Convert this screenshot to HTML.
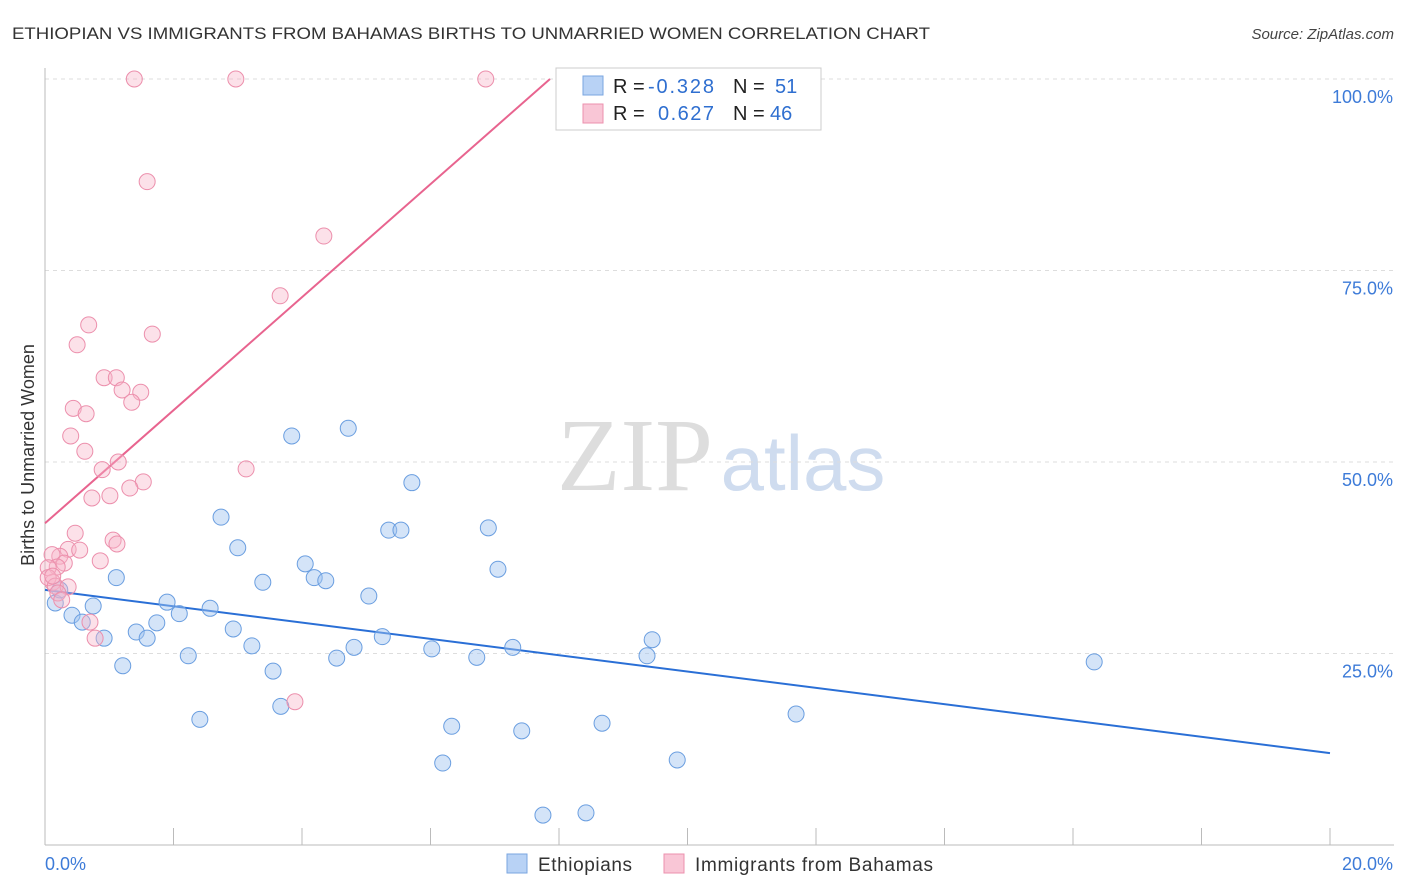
<!DOCTYPE html>
<html><head><meta charset="utf-8"><style>
body{margin:0;background:#fff;font-family:"Liberation Sans",sans-serif;}
svg{display:block}
</style></head><body>
<svg id="chart" width="1406" height="892">
<text x="12" y="39" font-size="17" fill="#333" textLength="918" lengthAdjust="spacingAndGlyphs">ETHIOPIAN VS IMMIGRANTS FROM BAHAMAS BIRTHS TO UNMARRIED WOMEN CORRELATION CHART</text>
<text x="1394" y="39" font-size="15" fill="#444" font-style="italic" text-anchor="end">Source: ZipAtlas.com</text>
<text x="0" y="0" transform="translate(34,455) rotate(-90)" font-size="18" fill="#333" text-anchor="middle">Births to Unmarried Women</text>
<g><text x="635" y="490" font-size="104" fill="#ddd" font-family="Liberation Serif" text-anchor="middle">ZIP</text><text x="803" y="490" font-size="78" fill="#cfdcef" text-anchor="middle">atlas</text></g>
<g id="grid"></g><g id="axes"></g><g id="lines"></g><g id="pts"></g>
<g>
<rect x="556" y="68" width="265" height="62" fill="#fff" stroke="#ccc"/>
<rect x="583" y="76" width="20" height="19" fill="#b8d2f5" stroke="#7aa6e0"/>
<rect x="583" y="104" width="20" height="19" fill="#f9c6d6" stroke="#ec90ae"/>
<text x="613" y="93" font-size="20" fill="#222">R = </text><text x="648" y="93" font-size="20" fill="#2f6fd0" textLength="66">-0.328</text>
<text x="733" y="93" font-size="20" fill="#222">N = </text><text x="775" y="93" font-size="20" fill="#2f6fd0">51</text>
<text x="613" y="120" font-size="20" fill="#222">R = </text><text x="658" y="120" font-size="20" fill="#2f6fd0" textLength="56">0.627</text>
<text x="733" y="120" font-size="20" fill="#222">N = </text><text x="770" y="120" font-size="20" fill="#2f6fd0">46</text>
</g>
<g>
<rect x="507" y="854" width="20" height="19" fill="#b8d2f5" stroke="#7aa6e0"/>
<text x="538" y="871" font-size="19" fill="#333" textLength="94">Ethiopians</text>
<rect x="664" y="854" width="20" height="19" fill="#f9c6d6" stroke="#ec90ae"/>
<text x="695" y="871" font-size="19" fill="#333" textLength="238">Immigrants from Bahamas</text>
</g>
</svg>
<script>
const xTicks=[0,2,4,6,8,10,12,14,16,18,20];
const yTicks=[25,50,75,100];
const blueX=[0.16,0.23,0.42,0.58,0.75,0.92,1.11,1.21,1.42,1.59,1.74,1.90,2.09,2.23,2.41,2.57,2.74,2.93,3.00,3.22,3.39,3.55,3.67,3.84,4.05,4.19,4.37,4.54,4.72,4.81,5.04,5.25,5.35,5.54,5.71,6.02,6.19,6.33,6.72,6.90,7.05,7.28,7.42,7.75,8.42,8.67,9.37,9.45,9.84,11.69,16.33];
const blueY=[31.6,33.3,30.0,29.1,31.2,27.0,34.9,23.4,27.8,27.0,29.0,31.7,30.2,24.7,16.4,30.9,42.8,28.2,38.8,26.0,34.3,22.7,18.1,53.4,36.7,34.9,34.5,24.4,54.4,25.8,32.5,27.2,41.1,41.1,47.3,25.6,10.7,15.5,24.5,41.4,36.0,25.8,14.9,3.9,4.2,15.9,24.7,26.8,11.1,17.1,23.9];
const pinkX=[1.39,2.97,6.86,1.59,4.34,3.66,0.68,1.67,0.50,0.92,1.11,1.20,1.49,1.35,0.44,0.64,0.40,0.62,1.14,0.89,3.13,1.53,1.32,1.01,0.73,0.47,1.06,1.12,0.36,0.54,0.23,0.11,0.30,0.19,0.05,0.86,0.12,0.05,0.16,0.36,0.20,0.26,0.70,0.78,3.89,0.12];
const pinkY=[100,100,100,86.6,79.5,71.7,67.9,66.7,65.3,61.0,61.0,59.4,59.1,57.8,57.0,56.3,53.4,51.4,50.0,49.0,49.1,47.4,46.6,45.6,45.3,40.7,39.8,39.3,38.6,38.5,37.7,37.9,36.8,36.3,36.2,37.1,34.3,34.9,33.8,33.7,32.9,32.0,29.1,27.0,18.7,35.1];
const blueLine=[33.3,12.0];
const pinkLine=[42.0,7.86];
const NS='http://www.w3.org/2000/svg';
const X=v=>45+v/20*1285, Y=v=>845-v*7.66;
function mk(t,a,p){const e=document.createElementNS(NS,t);for(const k in a)e.setAttribute(k,a[k]);p.appendChild(e);return e;}
const g=document.getElementById('grid'),ax=document.getElementById('axes'),ln=document.getElementById('lines'),pt=document.getElementById('pts');
yTicks.forEach(v=>{const l=mk('line',{x1:45,x2:1394,y1:Y(v),y2:Y(v),stroke:'#ddd','stroke-dasharray':'4,4'},g);

const t=mk('text',{x:1393,y:Y(v)+24,'font-size':18,fill:'#3d7bd8','text-anchor':'end'},ax);t.textContent=v.toFixed(1)+'%';
});
const xa=mk('line',{x1:45,x2:1394,y1:845,y2:845,stroke:'#bbb'},ax);

const ya=mk('line',{x1:45,x2:45,y1:68,y2:845,stroke:'#bbb'},ax);

xTicks.forEach(v=>{const l=mk('line',{x1:X(v),x2:X(v),y1:828,y2:845,stroke:'#bbb'},ax);
});
[[0,'start'],[20,'end']].forEach(([v,a])=>{const t=mk('text',{x:v==0?45:1393,y:870,'font-size':18,fill:'#3d7bd8','text-anchor':a},ax);t.textContent=v.toFixed(1)+'%';
});
function dots(xs,ys,fill,stroke,name){xs.forEach((x,i)=>{const c=mk('circle',{cx:X(x),cy:Y(ys[i]),r:8,fill:fill,stroke:stroke,'stroke-width':1},pt);
});}
dots(blueX,blueY,'rgba(160,195,240,0.45)','#6a9ee0','ethiopians-point');
dots(pinkX,pinkY,'rgba(248,180,200,0.4)','#ec8fac','bahamas-point');
const bl=mk('line',{x1:X(0),y1:Y(blueLine[0]),x2:X(20),y2:Y(blueLine[1]),stroke:'#2a6fd6','stroke-width':2},ln);

const pl=mk('line',{x1:X(0),y1:Y(pinkLine[0]),x2:X(pinkLine[1]),y2:Y(100),stroke:'#e8648f','stroke-width':2},ln);

</script>
</body></html>
